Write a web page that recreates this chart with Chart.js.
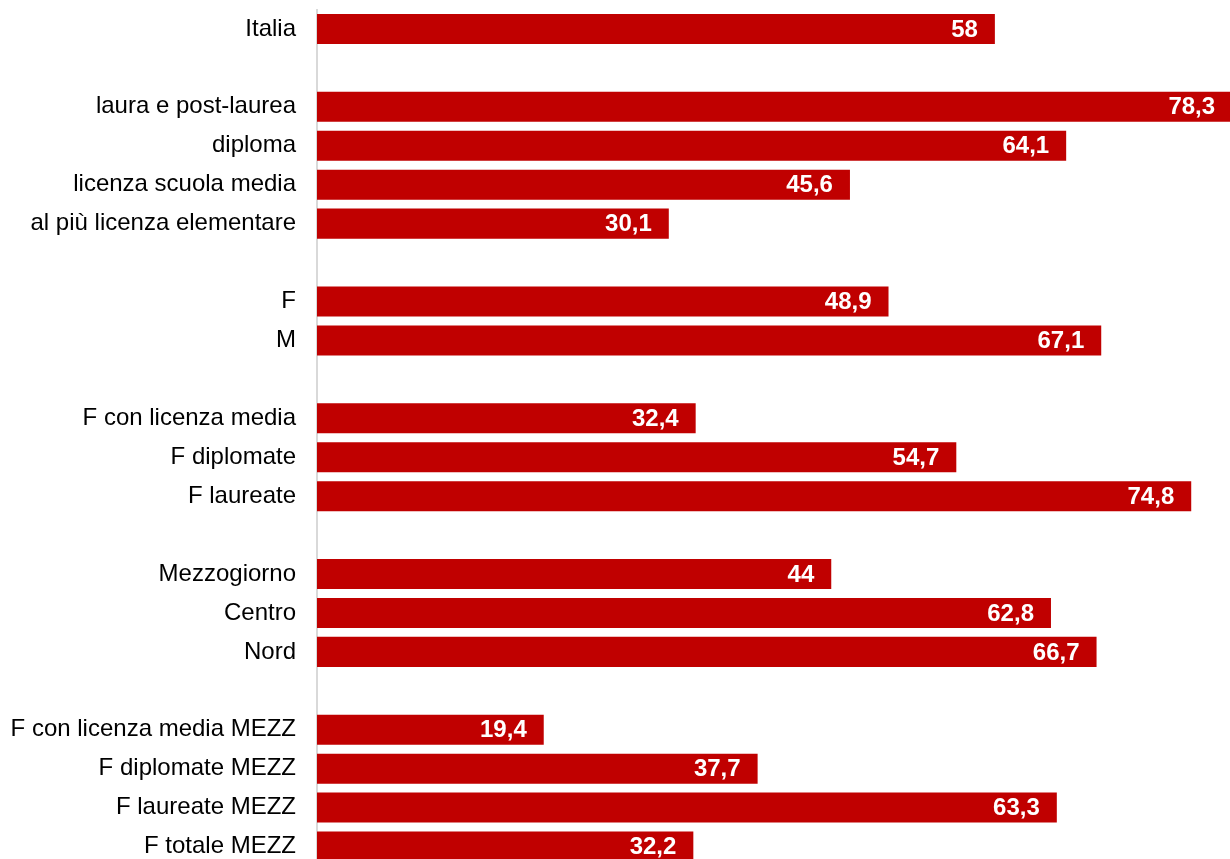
<!DOCTYPE html>
<html>
<head>
<meta charset="utf-8">
<script src="https://cdn.jsdelivr.net/npm/chart.js@4/dist/chart.umd.min.js"></script>
<style>
html,body{margin:0;padding:0;background:#fff;overflow:hidden;}
#wrap{width:1252px;height:866px;}
</style>
</head>
<body>
<div id="wrap"><canvas id="c" width="1252" height="866"></canvas></div>
<script>
const categories = [
  "Italia", "",
  "laura e post-laurea", "diploma", "licenza scuola media", "al più licenza elementare", "",
  "F", "M", "",
  "F con licenza media", "F diplomate", "F laureate", "",
  "Mezzogiorno", "Centro", "Nord", "",
  "F con licenza media MEZZ", "F diplomate MEZZ", "F laureate MEZZ", "F totale MEZZ"
];
const values = [
  58, null,
  78.3, 64.1, 45.6, 30.1, null,
  48.9, 67.1, null,
  32.4, 54.7, 74.8, null,
  44, 62.8, 66.7, null,
  19.4, 37.7, 63.3, 32.2
];
const FONT = "'Liberation Sans', Arial, sans-serif";

const labelPlugin = {
  id: 'barLabels',
  afterDatasetsDraw(chart) {
    const ctx = chart.ctx;
    const meta = chart.getDatasetMeta(0);
    ctx.save();
    ctx.fillStyle = '#ffffff';
    ctx.font = 'bold 24px ' + FONT;
    ctx.textAlign = 'right';
    ctx.textBaseline = 'middle';
    meta.data.forEach((bar, i) => {
      const v = values[i];
      if (v === null || v === undefined) return;
      const txt = String(v).replace('.', ',');
      ctx.fillText(txt, bar.x - 17, bar.y + 1);
    });
    ctx.restore();
  }
};

new Chart(document.getElementById('c'), {
  type: 'bar',
  data: {
    labels: categories,
    datasets: [{
      data: values,
      backgroundColor: '#c00000',
      borderWidth: 0,
      barPercentage: 0.771,
      categoryPercentage: 1
    }]
  },
  options: {
    indexAxis: 'y',
    responsive: false,
    animation: false,
    layout: { padding: { top: 9.5, right: 0, bottom: 0, left: 0 } },
    plugins: { legend: { display: false }, tooltip: { enabled: false } },
    scales: {
      x: { display: false, min: 0, max: 80 },
      y: {
        grid: { display: false, drawTicks: false },
        border: { display: true, color: '#d9d9d9', width: 2 },
        ticks: {
          color: '#000000',
          padding: 21,
          font: { family: FONT, size: 24 },
          autoSkip: false
        },
        afterFit(scale) {
          scale.width = 317;
          scale.paddingTop = 0;
          scale.paddingBottom = 0;
        }
      }
    }
  },
  plugins: [labelPlugin]
});
</script>
</body>
</html>
